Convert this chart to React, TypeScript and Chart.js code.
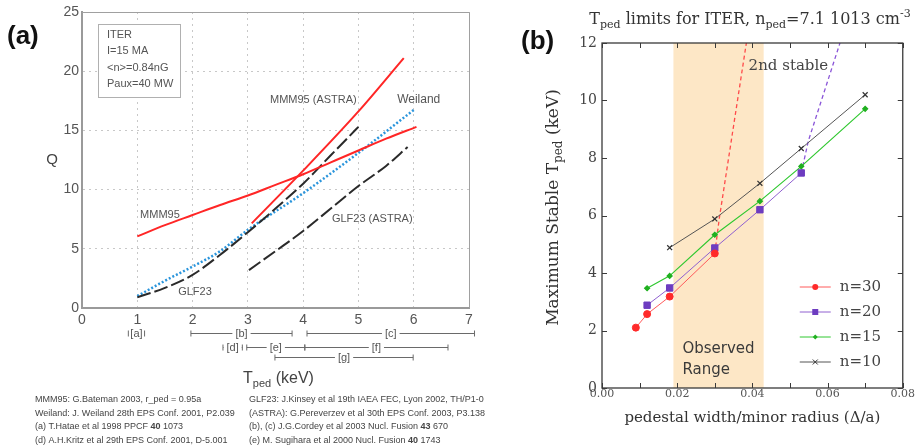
import React, { useEffect, useRef } from 'react';
import { Chart, registerables } from 'chart.js';

Chart.register(...registerables);

// ---------------- Panel (a): Q vs T_ped ----------------
const mmm95T = [1, 1.5, 2, 2.5, 3, 3.5, 4, 4.5, 5, 5.5, 6.05];
const mmm95Q = [6.05, 7.0, 7.85, 8.7, 9.5, 10.4, 11.3, 12.3, 13.3, 14.3, 15.3];
const mmm95AstraT = [3.07, 4, 5, 5.82];
const mmm95AstraQ = [7.15, 11.6, 16.6, 21.1];
const weilandT = [1, 1.5, 2, 2.5, 3, 4, 5, 6.02];
const weilandQ = [1.0, 2.3, 3.5, 4.8, 6.6, 9.7, 13.1, 16.8];
const glf23T = [1, 1.5, 2, 2.5, 3, 3.5, 4, 4.5, 5];
const glf23Q = [0.9, 1.7, 2.8, 4.5, 6.4, 8.4, 10.5, 12.9, 15.3];
const glf23AstraT = [3.02, 3.5, 4, 4.5, 5, 5.5, 5.89];
const glf23AstraQ = [3.2, 4.8, 6.5, 8.4, 10.3, 12.0, 13.6];

const rangeNames = ['[a]', '[b]', '[c]', '[d]', '[e]', '[f]', '[g]'];
const rangeFrom = [0.87, 1.97, 4.07, 2.55, 2.98, 4.03, 3.49];
const rangeTo = [1.1, 3.8, 7.1, 2.9, 4.03, 6.62, 5.99];
const rangeRow = [0, 0, 0, 1, 1, 1, 2];

const infoLines = ['ITER', 'I=15 MA', '<n>=0.84nG', 'Paux=40 MW'];
const refsLeft = [
  'MMM95: G.Bateman 2003, r_ped = 0.95a',
  'Weiland: J. Weiland 28th EPS Conf. 2001, P2.039',
  '(a) T.Hatae et al 1998 PPCF **40** 1073',
  '(d) A.H.Kritz et al 29th EPS Conf. 2001, D-5.001',
];
const refsRight = [
  'GLF23: J.Kinsey et al 19th IAEA FEC, Lyon 2002, TH/P1-0',
  '(ASTRA): G.Pereverzev et al 30th EPS Conf. 2003, P3.138',
  '(b), (c) J.G.Cordey et al 2003 Nucl. Fusion **43** 670',
  '(e) M. Sugihara et al 2000 Nucl. Fusion **40** 1743',
];

// ---------------- Panel (b): max stable T_ped vs Δ/a ----------------
const n30W = [0.009, 0.012, 0.018, 0.030];
const n30T = [2.1, 2.57, 3.18, 4.68];
const n20W = [0.012, 0.018, 0.030, 0.042, 0.053];
const n20T = [2.88, 3.48, 4.87, 6.2, 7.48];
const n15W = [0.012, 0.018, 0.030, 0.042, 0.053, 0.070];
const n15T = [3.47, 3.9, 5.33, 6.5, 7.71, 9.71];
const n10W = [0.018, 0.030, 0.042, 0.053, 0.070];
const n10T = [4.88, 5.88, 7.12, 8.33, 10.2];
const n30StableW = [0.030, 0.0312, 0.0384];
const n30StableT = [4.68, 5.9, 12];
const n20StableW = [0.053, 0.0549, 0.0633];
const n20StableT = [7.48, 8.6, 12];
const observedRange = [0.019, 0.043];
const legendLabels = ['n=30', 'n=20', 'n=15', 'n=10'];

const SANS = '"Liberation Sans", Arial, sans-serif';
const SERIF = '"DejaVu Serif", "Liberation Serif", serif';

const pts = (xs: number[], ys: number[]) => xs.map((x, i) => ({ x, y: ys[i] }));

type Part = { t: string; size: number; dy?: number; bold?: boolean };

function fontOf(p: Part, family: string) {
  return `${p.bold ? 'bold ' : ''}${p.size}px ${family}`;
}
function richWidth(ctx: CanvasRenderingContext2D, parts: Part[], family: string) {
  let w = 0;
  for (const p of parts) {
    ctx.font = fontOf(p, family);
    w += ctx.measureText(p.t).width;
  }
  return w;
}
function drawRich(ctx: CanvasRenderingContext2D, parts: Part[], x: number, y: number, family: string, align: 'left' | 'center') {
  let cx = align === 'center' ? x - richWidth(ctx, parts, family) / 2 : x;
  ctx.textAlign = 'left';
  for (const p of parts) {
    ctx.font = fontOf(p, family);
    ctx.fillText(p.t, cx, y + (p.dy || 0));
    cx += ctx.measureText(p.t).width;
  }
}
function parseBold(s: string, size: number): Part[] {
  return s.split('**').map((t, i) => ({ t, size, bold: i % 2 === 1 }));
}

const panelAPlugin = {
  id: 'panelA',
  afterDraw(chart: any) {
    const { ctx, chartArea: ca, scales } = chart;
    const xs = scales.x;
    const ys = scales.y;
    ctx.save();
    // top & right frame
    ctx.strokeStyle = '#a0a0a0';
    ctx.lineWidth = 1;
    ctx.setLineDash([]);
    ctx.beginPath();
    ctx.moveTo(ca.left, ca.top + 0.5);
    ctx.lineTo(ca.right + 0.5, ca.top + 0.5);
    ctx.lineTo(ca.right + 0.5, ca.bottom);
    ctx.stroke();

    // panel label
    ctx.fillStyle = '#111';
    ctx.font = `bold 26px ${SANS}`;
    ctx.textAlign = 'left';
    ctx.textBaseline = 'middle';
    ctx.fillText('(a)', 7, 37);

    // info box
    ctx.fillStyle = '#fff';
    ctx.fillRect(ca.left + 16, ca.top + 12, 82, 73);
    ctx.strokeStyle = '#b0b0b0';
    ctx.strokeRect(ca.left + 16.5, ca.top + 12.5, 82, 73);
    ctx.fillStyle = '#555';
    ctx.font = `11px ${SANS}`;
    infoLines.forEach((l, i) => ctx.fillText(l, ca.left + 25, ca.top + 23 + i * 16.3));

    // curve labels
    const lab = (t: string, x: number, y: number, size = 11) => {
      ctx.font = `${size}px ${SANS}`;
      ctx.fillText(t, xs.getPixelForValue(x), ys.getPixelForValue(y));
    };
    ctx.fillStyle = '#555';
    lab('MMM95', 1.05, 7.85);
    lab('MMM95 (ASTRA)', 3.4, 17.6);
    lab('Weiland', 5.7, 17.6, 12);
    lab('GLF23 (ASTRA)', 4.52, 7.5);
    lab('GLF23', 1.74, 1.35);

    // axis titles
    ctx.fillStyle = '#444';
    ctx.font = `15px ${SANS}`;
    ctx.textAlign = 'center';
    ctx.fillText('Q', 52, (ca.top + ca.bottom) / 2);
    ctx.textBaseline = 'alphabetic';
    drawRich(ctx, [
      { t: 'T', size: 16 },
      { t: 'ped', size: 11, dy: 4 },
      { t: ' (keV)', size: 16 },
    ], (ca.left + ca.right) / 2 + 3, ca.bottom + 75, SANS, 'center');

    // experimental ranges
    const rowY = [ca.bottom + 25, ca.bottom + 39, ca.bottom + 49];
    ctx.font = `11px ${SANS}`;
    ctx.textBaseline = 'middle';
    ctx.textAlign = 'center';
    ctx.strokeStyle = '#6a6a6a';
    ctx.lineWidth = 1;
    rangeNames.forEach((name, i) => {
      let x1 = xs.getPixelForValue(rangeFrom[i]);
      let x2 = xs.getPixelForValue(rangeTo[i]);
      const y = Math.round(rowY[rangeRow[i]]) + 0.5;
      const mid = (x1 + x2) / 2;
      const w = ctx.measureText(name).width;
      if (x2 - x1 < w + 6) {
        x1 = mid - w / 2 - 2;
        x2 = mid + w / 2 + 2;
      } else {
        ctx.beginPath();
        ctx.moveTo(x1, y);
        ctx.lineTo(mid - w / 2 - 3, y);
        ctx.moveTo(mid + w / 2 + 3, y);
        ctx.lineTo(x2, y);
        ctx.stroke();
      }
      ctx.beginPath();
      ctx.moveTo(x1, y - 3);
      ctx.lineTo(x1, y + 3);
      ctx.moveTo(x2, y - 3);
      ctx.lineTo(x2, y + 3);
      ctx.stroke();
      ctx.fillStyle = '#555';
      ctx.fillText(name, mid, y);
    });

    // references
    ctx.fillStyle = '#444';
    ctx.textBaseline = 'middle';
    const refY = [400, 413.5, 427, 440.5];
    refsLeft.forEach((r, i) => drawRich(ctx, parseBold(r, 9), 35, refY[i], SANS, 'left'));
    refsRight.forEach((r, i) => drawRich(ctx, parseBold(r, 9), 249, refY[i], SANS, 'left'));
    ctx.restore();
  },
};

const panelBPlugin = {
  id: 'panelB',
  beforeDatasetsDraw(chart: any) {
    const { ctx, chartArea: ca, scales } = chart;
    const x1 = scales.x.getPixelForValue(observedRange[0]);
    const x2 = scales.x.getPixelForValue(observedRange[1]);
    ctx.save();
    ctx.fillStyle = '#fde7c6';
    ctx.fillRect(x1, ca.top, x2 - x1, ca.bottom - ca.top);
    ctx.fillStyle = '#3a3a3a';
    ctx.font = '15px "DejaVu Sans", sans-serif';
    ctx.textAlign = 'left';
    ctx.textBaseline = 'alphabetic';
    ctx.fillText('Observed', x1 + 9, ca.bottom - 35);
    ctx.fillText('Range', x1 + 9, ca.bottom - 14);
    ctx.restore();
  },
  afterDraw(chart: any) {
    const { ctx, chartArea: ca, scales } = chart;
    const xs = scales.x;
    const ys = scales.y;
    ctx.save();
    ctx.setLineDash([]);
    // frame
    ctx.strokeStyle = '#3a3a3a';
    ctx.lineWidth = 1.3;
    ctx.strokeRect(ca.left, ca.top, ca.right - ca.left, ca.bottom - ca.top);
    // inner ticks
    ctx.lineWidth = 1;
    ctx.beginPath();
    for (const t of xs.ticks) {
      const px = Math.round(xs.getPixelForValue(t.value)) + 0.5;
      ctx.moveTo(px, ca.bottom);
      ctx.lineTo(px, ca.bottom - 5);
      ctx.moveTo(px, ca.top);
      ctx.lineTo(px, ca.top + 5);
    }
    for (const t of ys.ticks) {
      const py = Math.round(ys.getPixelForValue(t.value)) + 0.5;
      ctx.moveTo(ca.left, py);
      ctx.lineTo(ca.left + 5, py);
      ctx.moveTo(ca.right, py);
      ctx.lineTo(ca.right - 5, py);
    }
    ctx.stroke();

    // 2nd stable label
    ctx.fillStyle = '#444';
    ctx.font = `15px ${SERIF}`;
    ctx.textAlign = 'left';
    ctx.textBaseline = 'middle';
    ctx.fillText('2nd stable', xs.getPixelForValue(0.039), ys.getPixelForValue(11.2));

    // legend
    const lx1 = ca.right - 103;
    const lx2 = ca.right - 72;
    const tx = ca.right - 63;
    const ly0 = ca.bottom - 101;
    legendLabels.forEach((label, i) => {
      const ds = chart.data.datasets[i];
      const y = ly0 + i * 25;
      ctx.strokeStyle = ds.borderColor;
      ctx.lineWidth = 1;
      ctx.beginPath();
      ctx.moveTo(lx1, y);
      ctx.lineTo(lx2, y);
      ctx.stroke();
      const mx = (lx1 + lx2) / 2;
      ctx.fillStyle = ds.pointBackgroundColor;
      ctx.strokeStyle = ds.pointBorderColor;
      if (ds.pointStyle === 'circle') {
        ctx.beginPath();
        ctx.arc(mx, y, 3, 0, Math.PI * 2);
        ctx.fill();
      } else if (ds.pointStyle === 'rect') {
        ctx.fillRect(mx - 3, y - 3, 6, 6);
      } else if (ds.pointStyle === 'rectRot') {
        ctx.beginPath();
        ctx.moveTo(mx, y - 2.5);
        ctx.lineTo(mx + 2.5, y);
        ctx.lineTo(mx, y + 2.5);
        ctx.lineTo(mx - 2.5, y);
        ctx.closePath();
        ctx.fill();
      } else {
        ctx.beginPath();
        ctx.moveTo(mx - 2.5, y - 2.5);
        ctx.lineTo(mx + 2.5, y + 2.5);
        ctx.moveTo(mx + 2.5, y - 2.5);
        ctx.lineTo(mx - 2.5, y + 2.5);
        ctx.stroke();
      }
      ctx.fillStyle = '#444';
      ctx.font = `15px ${SERIF}`;
      ctx.fillText(label, tx, y);
    });

    // titles
    ctx.fillStyle = '#333';
    ctx.textBaseline = 'alphabetic';
    drawRich(ctx, [
      { t: 'T', size: 16 },
      { t: 'ped', size: 11, dy: 4 },
      { t: ' limits for ITER, n', size: 16 },
      { t: 'ped', size: 11, dy: 4 },
      { t: '=7.1 1013 cm', size: 16 },
      { t: '-3', size: 11, dy: -7 },
    ], 750, 24, SERIF, 'center');

    drawRich(ctx, [{ t: 'pedestal width/minor radius (Δ/a)', size: 15 }], (ca.left + ca.right) / 2, ca.bottom + 34, SERIF, 'center');

    ctx.save();
    ctx.translate(ca.left - 44, (ca.top + ca.bottom) / 2 - 8);
    ctx.rotate(-Math.PI / 2);
    drawRich(ctx, [
      { t: 'Maximum Stable T', size: 17 },
      { t: 'ped', size: 12, dy: 4 },
      { t: ' (keV)', size: 17 },
    ], 0, 0, SERIF, 'center');
    ctx.restore();

    ctx.fillStyle = '#111';
    ctx.font = `bold 26px ${SANS}`;
    ctx.textAlign = 'left';
    ctx.textBaseline = 'middle';
    ctx.fillText('(b)', 521, 42);
    ctx.restore();
  },
};

function makeChartA(canvas: HTMLCanvasElement) {
  const gridColor = (c: any) => (c.tick && c.tick.value === 0 ? 'rgba(0,0,0,0)' : '#c8c8c8');
  return new Chart(canvas, {
    type: 'line',
    data: {
      datasets: [
        { label: 'MMM95', data: pts(mmm95T, mmm95Q), borderColor: '#ff2626', borderWidth: 2, pointRadius: 0, cubicInterpolationMode: 'monotone' },
        { label: 'MMM95 (ASTRA)', data: pts(mmm95AstraT, mmm95AstraQ), borderColor: '#ff2626', borderWidth: 2, pointRadius: 0, cubicInterpolationMode: 'monotone' },
        { label: 'GLF23', data: pts(glf23T, glf23Q), borderColor: '#2a2a2a', borderWidth: 2, borderDash: [14, 4], pointRadius: 0, cubicInterpolationMode: 'monotone' },
        { label: 'GLF23 (ASTRA)', data: pts(glf23AstraT, glf23AstraQ), borderColor: '#2a2a2a', borderWidth: 2, borderDash: [14, 4], pointRadius: 0, cubicInterpolationMode: 'monotone' },
        { label: 'Weiland', data: pts(weilandT, weilandQ), borderColor: '#2a95dc', borderWidth: 2.5, borderDash: [2, 2], pointRadius: 0, cubicInterpolationMode: 'monotone' },
      ],
    },
    options: {
      animation: false,
      responsive: false,
      events: [],
      layout: { padding: { left: 42, top: 12, right: 446, bottom: 116 }, autoPadding: false },
      plugins: { legend: { display: false }, tooltip: { enabled: false } },
      scales: {
        x: {
          type: 'linear', min: 0, max: 7,
          afterFit: (s: any) => { s.height = 24; },
          ticks: { stepSize: 1, color: '#555', font: { family: SANS, size: 14 }, padding: 4, maxRotation: 0 },
          grid: { color: gridColor, lineWidth: 1, drawTicks: false },
          border: { display: true, color: '#9a9a9a', width: 2, dash: [2, 4] },
        },
        y: {
          type: 'linear', min: 0, max: 25,
          afterFit: (s: any) => { s.width = 40; },
          ticks: { stepSize: 5, color: '#555', font: { family: SANS, size: 14 }, padding: 3 },
          grid: { color: gridColor, lineWidth: 1, drawTicks: false },
          border: { display: true, color: '#9a9a9a', width: 2, dash: [2, 4] },
        },
      },
    } as any,
    plugins: [panelAPlugin],
  } as any);
}

function makeChartB(canvas: HTMLCanvasElement) {
  return new Chart(canvas, {
    type: 'line',
    data: {
      datasets: [
        { label: 'n=30', data: pts(n30W, n30T), borderColor: '#ff5a5a', borderWidth: 1, pointStyle: 'circle', pointRadius: 3.5, pointBackgroundColor: '#ff2a2a', pointBorderColor: '#ff2a2a' },
        { label: 'n=20', data: pts(n20W, n20T), borderColor: '#9060d0', borderWidth: 1, pointStyle: 'rect', pointRadius: 4.5, pointBackgroundColor: '#6d3cc0', pointBorderColor: '#6d3cc0' },
        { label: 'n=15', data: pts(n15W, n15T), borderColor: '#30c830', borderWidth: 1.2, pointStyle: 'rectRot', pointRadius: 2.5, pointBackgroundColor: '#20b020', pointBorderColor: '#20b020' },
        { label: 'n=10', data: pts(n10W, n10T), borderColor: '#555555', borderWidth: 1, pointStyle: 'crossRot', pointRadius: 3.5, pointBorderWidth: 1.2, pointBackgroundColor: '#333333', pointBorderColor: '#333333' },
        { label: 'n=30 2nd stable', data: pts(n30StableW, n30StableT), borderColor: '#ff4a4a', borderWidth: 1.3, borderDash: [4, 3], pointRadius: 0 },
        { label: 'n=20 2nd stable', data: pts(n20StableW, n20StableT), borderColor: '#8a55d8', borderWidth: 1.3, borderDash: [4, 3], pointRadius: 0 },
      ],
    },
    options: {
      animation: false,
      responsive: false,
      events: [],
      layout: { padding: { left: 572, top: 43, right: 10, bottom: 40 }, autoPadding: false },
      plugins: { legend: { display: false }, tooltip: { enabled: false } },
      scales: {
        x: {
          type: 'linear', min: 0, max: 0.08,
          afterFit: (s: any) => { s.height = 20; },
          ticks: {
            stepSize: 0.01, autoSkip: false, maxRotation: 0, color: '#555', padding: 0,
            font: { family: SERIF, size: 11 },
            callback: (v: any) => {
              const n = Math.round(Number(v) * 100);
              return n % 2 === 0 ? (n / 100).toFixed(2) : '';
            },
          },
          grid: { display: false, drawTicks: false },
          border: { display: false },
        },
        y: {
          type: 'linear', min: 0, max: 12,
          afterFit: (s: any) => { s.width = 30; },
          ticks: { stepSize: 2, color: '#444', padding: 5, font: { family: SERIF, size: 14 } },
          grid: { display: false, drawTicks: false },
          border: { display: false },
        },
      },
    } as any,
    plugins: [panelBPlugin],
  } as any);
}

export default function App() {
  const refA = useRef<HTMLCanvasElement>(null);
  const refB = useRef<HTMLCanvasElement>(null);
  useEffect(() => {
    const a = makeChartA(refA.current as HTMLCanvasElement);
    const b = makeChartB(refB.current as HTMLCanvasElement);
    return () => {
      a.destroy();
      b.destroy();
    };
  }, []);
  return (
    <div style={{ position: 'absolute', left: 0, top: 0, width: 915, height: 448, background: '#fff', overflow: 'hidden' }}>
      <canvas ref={refA} width={915} height={448} style={{ position: 'absolute', left: 0, top: 0 }} />
      <canvas ref={refB} width={915} height={448} style={{ position: 'absolute', left: 0, top: 0 }} />
    </div>
  );
}
